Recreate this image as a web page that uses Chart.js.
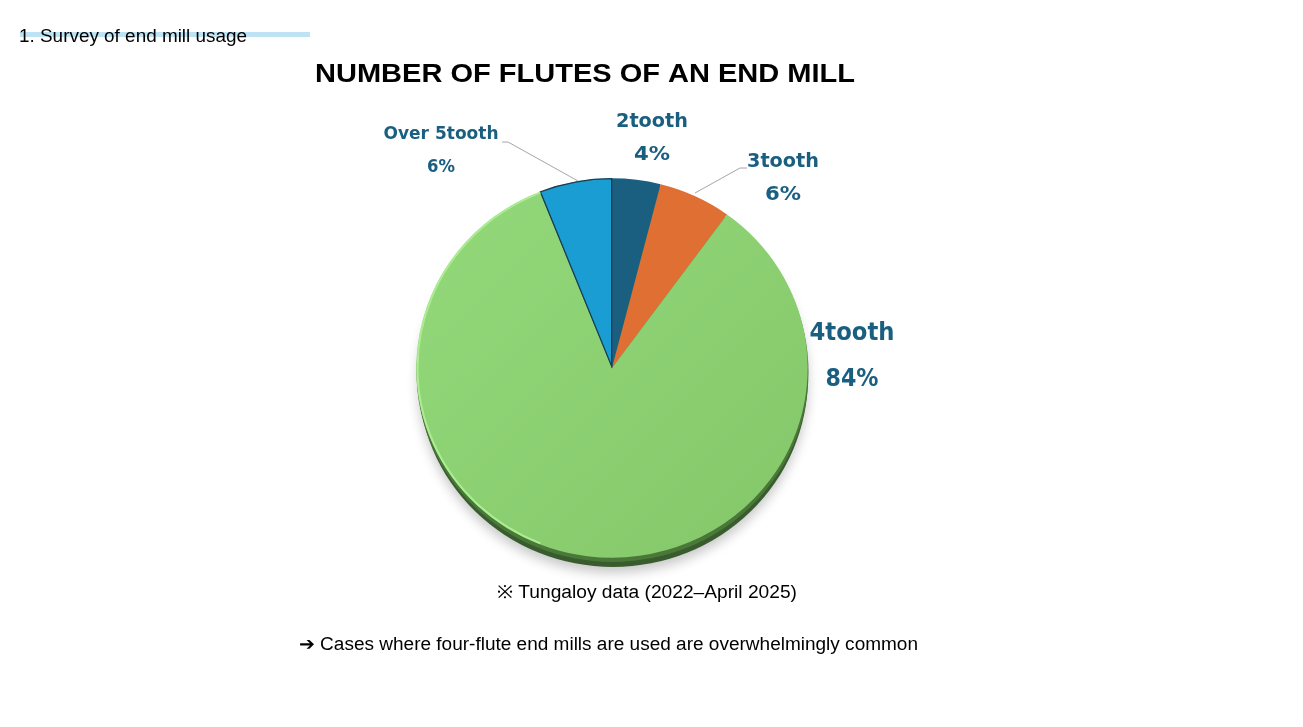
<!DOCTYPE html>
<html>
<head>
<meta charset="utf-8">
<script src="https://cdn.jsdelivr.net/npm/chart.js@4.4.1/dist/chart.umd.min.js"></script>
<style>
html,body{margin:0;padding:0;background:#fff;}
#wrap{position:relative;width:1303px;height:727px;}
</style>
</head>
<body>
<div id="wrap"><canvas id="c" width="1303" height="727"></canvas></div>
<script>
const categories = ["2tooth", "3tooth", "4tooth", "Over 5tooth"];
const shares = [4, 6, 84, 6];
const percentLabels = ["4%", "6%", "84%", "6%"];
const sliceColors = ["#1B5F80", "#E06F33", "#8CD172", "#1A9DD3"];
const chartTitle = "NUMBER OF FLUTES OF AN END MILL";
const headerText = "1. Survey of end mill usage";
const noteText = "\u203B Tungaloy data (2022\u2013April 2025)";
const conclusionText = "\u2794 Cases where four-flute end mills are used are overwhelmingly common";

const labelColor = "#1B5F80";
const labelFamily = "'DejaVu Sans', 'Noto Sans', sans-serif";
const textFamily = "'Liberation Sans', Arial, sans-serif";
const labelStyles = [
  {x: 652, y1: 122, y2: 155, s1: 20, s2: 20, w1: 72, w2: 36},
  {x: 783, y1: 162, y2: 195, s1: 20, s2: 20, w1: 72, w2: 36},
  {x: 852, y1: 333, y2: 379, s1: 25, s2: 25, w1: 85, w2: 53},
  {x: 441, y1: 134, y2: 168, s1: 18, s2: 17, w1: 115, w2: 28}
];
const leaders = [null, [[747,168],[740,168],[695,193]], null, [[502,142],[508,142],[578,181]]];
const ellipseRatio = 190 / 196;

function fillFit(ctx, text, x, y, font, targetW, align) {
  ctx.font = font;
  const w = ctx.measureText(text).width;
  const sx = targetW / w;
  ctx.save();
  let left = x;
  if (align === "center") left = x - targetW / 2;
  ctx.translate(left, y);
  ctx.scale(sx, 1);
  ctx.textAlign = "left";
  ctx.fillText(text, 0, 0);
  ctx.restore();
}

const decor = {
  id: "decor",
  beforeDatasetsDraw(chart) {
    const ctx = chart.ctx;
    const arc = chart.getDatasetMeta(0).data[0];
    if (!arc) return;
    const cx = arc.x, cy = arc.y, r = arc.outerRadius;
    ctx.save();
    ctx.save();
    ctx.shadowColor = "rgba(0,0,0,0.22)";
    ctx.shadowBlur = 12;
    ctx.shadowOffsetY = 6;
    ctx.beginPath();
    ctx.ellipse(cx + 1, cy + 9, r - 1, r * ellipseRatio, 0, 0, Math.PI * 2);
    ctx.fillStyle = "#385C2D";
    ctx.fill();
    ctx.restore();
    ctx.beginPath();
    ctx.ellipse(cx + 0.5, cy + 4, r, r * ellipseRatio, 0, 0, Math.PI * 2);
    ctx.fillStyle = "#4A7839";
    ctx.fill();
    ctx.translate(cx, cy);
    ctx.scale(1, ellipseRatio);
    ctx.translate(-cx, -cy);
  },
  afterDatasetsDraw(chart) {
    const ctx = chart.ctx;
    const arc = chart.getDatasetMeta(0).data[0];
    if (!arc) return;
    const cx = arc.x, cy = arc.y, r = arc.outerRadius;
    ctx.beginPath();
    ctx.arc(cx, cy, r - 1.5, Math.PI * 0.62, Math.PI * 1.38);
    ctx.strokeStyle = "rgba(175,240,150,0.9)";
    ctx.lineWidth = 2;
    ctx.stroke();
    ctx.restore();
  },
  afterDraw(chart) {
    const ctx = chart.ctx;
    ctx.save();
    ctx.fillStyle = "#BDE3F5";
    ctx.fillRect(20, 32, 290, 5);
    ctx.fillStyle = "#000";
    ctx.textBaseline = "middle";
    fillFit(ctx, headerText, 19, 37, "18px " + textFamily, 228, "left");
    fillFit(ctx, chartTitle, 585, 75, "bold 26px " + textFamily, 540, "center");
    fillFit(ctx, noteText, 647, 593, "18px " + textFamily, 300, "center");
    fillFit(ctx, conclusionText, 299, 645, "18px " + textFamily, 619, "left");
    ctx.strokeStyle = "#A6A6A6";
    ctx.lineWidth = 1;
    leaders.forEach(l => {
      if (!l) return;
      ctx.beginPath();
      ctx.moveTo(l[0][0], l[0][1]);
      for (let i = 1; i < l.length; i++) ctx.lineTo(l[i][0], l[i][1]);
      ctx.stroke();
    });
    ctx.fillStyle = labelColor;
    categories.forEach((c, i) => {
      const s = labelStyles[i];
      fillFit(ctx, c, s.x, s.y1, "bold " + s.s1 + "px " + labelFamily, s.w1, "center");
      fillFit(ctx, percentLabels[i], s.x, s.y2, "bold " + s.s2 + "px " + labelFamily, s.w2, "center");
    });
    ctx.restore();
  }
};

const ctx = document.getElementById("c").getContext("2d");
new Chart(ctx, {
  type: "pie",
  data: {
    labels: categories,
    datasets: [{
      data: shares,
      backgroundColor: (c) => {
        const i = c.dataIndex;
        if (i === 2 && c.chart.chartArea) {
          const a = c.chart.chartArea;
          const g = c.chart.ctx.createLinearGradient(a.left, a.top, a.right, a.bottom);
          g.addColorStop(0, "#93D97A");
          g.addColorStop(1, "#84C76A");
          return g;
        }
        return sliceColors[i];
      },
      borderColor: ["#1B5F80", "#E06F33", "#8CD172", "#1B3F50"],
      borderWidth: [0, 0, 0, 1],
      borderAlign: "inner"
    }]
  },
  options: {
    responsive: false,
    animation: false,
    layout: { padding: { left: 416, right: 495, top: 172, bottom: 163 } },
    plugins: {
      legend: { display: false },
      tooltip: { enabled: false },
      title: { display: false }
    }
  },
  plugins: [decor]
});
</script>
</body>
</html>
